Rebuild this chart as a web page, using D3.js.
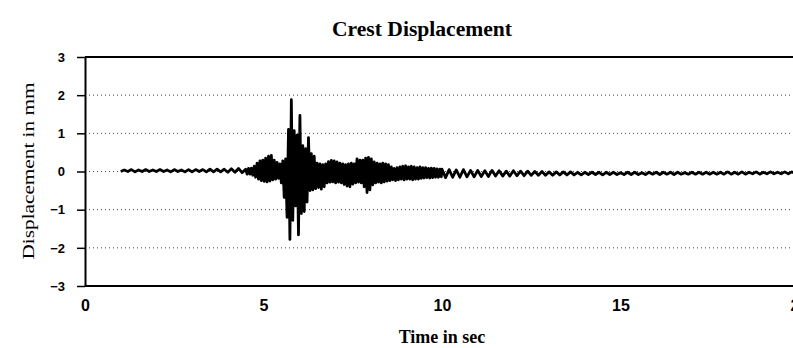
<!DOCTYPE html>
<html>
<head>
<meta charset="utf-8">
<script src="https://cdn.jsdelivr.net/npm/d3@7"></script>
<style>
  html, body { margin: 0; padding: 0; background: #fff; }
  svg { display: block; }
</style>
</head>
<body>
<svg id="chart" width="793" height="348"></svg>
<script>
// Axis ticks
const xTicks = [0, 5, 10, 15, 20];
const yTicks = [-3, -2, -1, 0, 1, 2, 3];
const gridValues = [-2, -1, 0, 1, 2];

// Crest displacement record (mm), stored as three sampled segments
const preEventStart = 1.0, preEventStep = 0.1;
const preEventDisp = [
  0.00, 0.04, 0.00, 0.05, -0.01, 0.04, 0.00, 0.05, 0.00, 0.04,
  0.00, 0.05, 0.00, 0.04, -0.01, 0.05, 0.00, 0.04, -0.01, 0.05,
  -0.01, 0.05, 0.00, 0.05, -0.01, 0.06, -0.01, 0.06, -0.01, 0.06,
  -0.02, 0.07, -0.02, 0.08, -0.03
];

const strongStart = 4.5, strongStep = 0.04;
const strongMotionDisp = [
  0.06, -0.07, 0.08, -0.07, 0.09, -0.10, 0.14, -0.15, 0.22, -0.20,
  0.28, -0.24, 0.30, -0.26, 0.35, -0.27, 0.40, -0.25, 0.42, -0.22,
  0.30, -0.20, 0.24, -0.18, 0.20, -0.30, 0.28, -0.68, 0.33, -1.20,
  1.10, -1.78, 1.88, -1.28, 1.07, -0.90, 0.95, -1.66, 1.47, -1.10,
  0.68, -1.05, 0.60, -0.80, 0.89, -0.50, 0.47, -0.48, 0.40, -0.45,
  0.22, -0.42, 0.20, -0.46, 0.18, -0.40, 0.20, -0.30, 0.26, -0.28,
  0.29, -0.27, 0.28, -0.30, 0.25, -0.28, 0.22, -0.30, 0.20, -0.34,
  0.18, -0.38, 0.20, -0.40, 0.22, -0.33, 0.20, -0.30, 0.33, -0.28,
  0.30, -0.30, 0.30, -0.40, 0.35, -0.55, 0.37, -0.48, 0.33, -0.35,
  0.25, -0.30, 0.22, -0.28, 0.20, -0.30, 0.22, -0.27, 0.20, -0.25,
  0.18, -0.24, 0.12, -0.22, 0.08, -0.24, 0.10, -0.22, 0.12, -0.20,
  0.14, -0.22, 0.15, -0.20, 0.12, -0.20, 0.14, -0.22, 0.12, -0.20,
  0.10, -0.20, 0.12, -0.18, 0.10, -0.17, 0.10, -0.16, 0.08, -0.17,
  0.09, -0.16, 0.08, -0.15, 0.07, -0.15, 0.06, -0.14
];

const codaStart = 10.0, codaStep = 0.1;
const codaDisp = [
  0.06, -0.16, 0.05, -0.15, 0.04, -0.15, 0.05, -0.14, 0.03, -0.14, 0.03,
  -0.13, 0.02, -0.13, 0.03, -0.12, 0.02, -0.12, 0.01, -0.12, 0.02,
  -0.11, 0.01, -0.11, 0.01, -0.10, 0.00, -0.10, 0.00, -0.10, -0.01,
  -0.10, -0.01, -0.09, -0.01, -0.09, -0.01, -0.09, -0.02, -0.09, -0.02,
  -0.08, -0.02, -0.08, -0.02, -0.09, -0.02, -0.08, -0.02, -0.08, -0.03,
  -0.08, -0.02, -0.08, -0.02, -0.08, -0.03, -0.08, -0.02, -0.07, -0.02,
  -0.08, -0.02, -0.07, -0.02, -0.08, -0.02, -0.07, -0.03, -0.07, -0.02,
  -0.07, -0.02, -0.07, -0.02, -0.07, -0.02, -0.07, -0.02, -0.07, -0.01,
  -0.07, -0.02, -0.07, -0.01, -0.07, -0.02, -0.06, -0.01, -0.07, -0.02,
  -0.06, -0.01, -0.06, -0.02, -0.06, -0.01, -0.06, -0.01, -0.06, -0.01
];

// Build (time, displacement) pairs from each segment's sampling grid
function segment(start, step, values) {
  return values.map((v, i) => ({ t: start + i * step, d: v }));
}
const record = [
  ...segment(preEventStart, preEventStep, preEventDisp),
  ...segment(strongStart, strongStep, strongMotionDisp),
  ...segment(codaStart, codaStep, codaDisp)
];

const svg = d3.select("#chart");
const x = d3.scaleLinear().domain([0, 20]).range([85, 799]);
const y = d3.scaleLinear().domain([-3, 3]).range([286, 57]);

// Dotted horizontal gridlines
svg.append("g")
  .selectAll("line")
  .data(gridValues)
  .join("line")
  .attr("x1", x(0)).attr("x2", x(20))
  .attr("y1", d => y(d)).attr("y2", d => y(d))
  .attr("stroke", "#444")
  .attr("stroke-width", 1)
  .attr("stroke-dasharray", "1,3");

// Displacement trace
const line = d3.line().x(d => x(d.t)).y(d => y(d.d));
svg.append("path")
  .datum(record)
  .attr("d", line)
  .attr("fill", "none")
  .attr("stroke", "#000")
  .attr("stroke-width", 2.8)
  .attr("stroke-linejoin", "round");

// Top and bottom frame lines
svg.append("g")
  .selectAll("line")
  .data([3, -3])
  .join("line")
  .attr("x1", x(0)).attr("x2", x(20))
  .attr("y1", d => y(d)).attr("y2", d => y(d))
  .attr("stroke", "#000")
  .attr("stroke-width", 2);

// Y axis
const yAxis = svg.append("g")
  .attr("transform", `translate(${x(0)},0)`)
  .call(d3.axisLeft(y).tickValues(yTicks).tickFormat(d3.format("d"))
    .tickSize(8).tickSizeOuter(0).tickPadding(12));
yAxis.select(".domain").attr("stroke", "#000").attr("stroke-width", 2);
yAxis.selectAll(".tick line").attr("stroke", "#000").attr("stroke-width", 1.5);
yAxis.selectAll(".tick text")
  .attr("font-family", "'Liberation Sans', Arial, sans-serif")
  .attr("font-weight", "bold")
  .attr("font-size", 13)
  .attr("fill", "#000");

// X axis labels (no tick marks, frame line carries the axis)
const xAxis = svg.append("g")
  .attr("transform", `translate(0,${y(-3)})`)
  .call(d3.axisBottom(x).tickValues(xTicks).tickFormat(d3.format("d"))
    .tickSize(0).tickSizeOuter(0).tickPadding(14));
xAxis.select(".domain").remove();
xAxis.selectAll(".tick text")
  .attr("font-family", "'Liberation Sans', Arial, sans-serif")
  .attr("font-weight", "bold")
  .attr("font-size", 16)
  .attr("fill", "#000");

// Title
svg.append("text")
  .attr("x", 422).attr("y", 36)
  .attr("text-anchor", "middle")
  .attr("font-family", "'Liberation Serif', 'Times New Roman', serif")
  .attr("font-weight", "bold")
  .attr("font-size", 20)
  .attr("textLength", 180)
  .attr("lengthAdjust", "spacingAndGlyphs")
  .text("Crest Displacement");

// X axis title
svg.append("text")
  .attr("x", 442).attr("y", 343)
  .attr("text-anchor", "middle")
  .attr("font-family", "'Liberation Serif', 'Times New Roman', serif")
  .attr("font-weight", "bold")
  .attr("font-size", 18)
  .text("Time in sec");

// Y axis title
svg.append("text")
  .attr("transform", "translate(34,171) rotate(-90)")
  .attr("text-anchor", "middle")
  .attr("font-family", "'Liberation Serif', 'Times New Roman', serif")
  .attr("font-size", 17)
  .attr("textLength", 177)
  .attr("lengthAdjust", "spacingAndGlyphs")
  .text("Displacement in mm");
</script>
</body>
</html>
